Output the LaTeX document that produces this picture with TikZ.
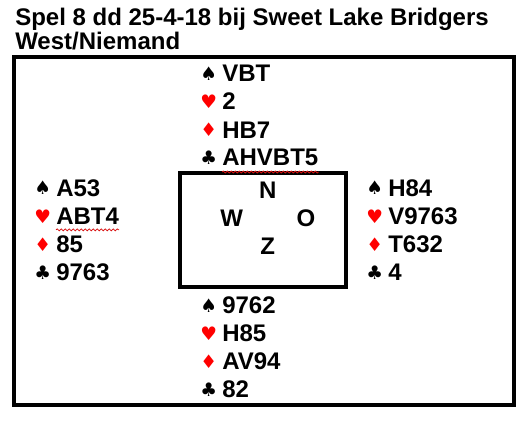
\documentclass[tikz,border=0pt]{standalone}
\usepackage{fontspec}
\setmainfont{Liberation Sans}
\newfontfamily\suitfont{DejaVu Sans}
\usetikzlibrary{positioning,decorations.pathmorphing}
\definecolor{suitred}{HTML}{FF0000}
\definecolor{spell}{HTML}{D81010}

\newcommand{\spadesym}{{\suitfont\fontsize{14}{14}\selectfont ♠}}
\newcommand{\heartsym}{{\suitfont\fontsize{14}{14}\selectfont ♥}}
\newcommand{\diamsym}{{\suitfont\fontsize{14}{14}\selectfont ♦}}
\newcommand{\clubsym}{{\suitfont\fontsize{14}{14}\selectfont ♣}}

\tikzset{
  cards/.style={anchor=base west,inner sep=0pt,font=\bfseries\fontsize{18}{18}\selectfont},
  suit/.style={inner sep=0pt},
  spade/.style={label={[suit]left:\spadesym}},
  heart/.style={label={[suit,text=suitred]left:\heartsym}},
  diamond/.style={label={[suit,text=suitred]left:\diamsym}},
  club/.style={label={[suit]left:\clubsym}},
  wind/.style={inner sep=0pt,font=\bfseries\fontsize{18}{18}\selectfont},
  squiggle/.style={draw=spell,line width=0.6pt,decorate,
    decoration={snake,amplitude=0.7pt,segment length=3pt}},
  frame/.style={draw,line width=3pt},
}

\begin{document}
\begin{tikzpicture}[x=0.75pt,y=-0.75pt,label distance=3.5pt]
\useasboundingbox (0,0) rectangle (531,424);

% title
\node[cards] (title1) at (15,26) {Spel 8 dd 25-4-18 bij Sweet Lake Bridgers};
\node[cards] (title2) at ([yshift=-18pt]title1.base west) {West/Niemand};

% frame and table
\draw[frame] (14,57) rectangle (513.5,404.5);
\node[frame,inner sep=0pt,minimum width=124.7pt,minimum height=85.7pt] (table) at (263.2,229.9) {};
\node[wind] (north) at (267.7,190) {N};
\node[wind] (west) at (231.7,218.3) {W};
\node[wind] (east) at (306,218.3) {O};
\node[wind] (south) at (267.7,246) {Z};

% North
\node[cards,spade] (nS) at (222,82) {VBT};
\node[cards,heart] (nH) at (222,110) {2};
\node[cards,diamond] (nD) at (222,138) {HB7};
\node[cards,club] (nC) at (222,166) {AHVBT5};

% West
\node[cards,spade] (wS) at (56,196) {A53};
\node[cards,heart] (wH) at (56,224.5) {ABT4};
\node[cards,diamond] (wD) at (56,252.5) {85};
\node[cards,club] (wC) at (56,280.5) {9763};

% East
\node[cards,spade] (eS) at (388,196) {H84};
\node[cards,heart] (eH) at (388,224.5) {V9763};
\node[cards,diamond] (eD) at (388,252.5) {T632};
\node[cards,club] (eC) at (388,280.5) {4};

% South
\node[cards,spade] (zS) at (222,313.5) {9762};
\node[cards,heart] (zH) at (222,341.5) {H85};
\node[cards,diamond] (zD) at (222,369.5) {AV94};
\node[cards,club] (zC) at (222,397.5) {82};

% spelling marks
\draw[squiggle] ([yshift=-4.5pt]nC.base west) -- ([yshift=-4.5pt]nC.base east);
\draw[squiggle] ([yshift=-4pt]wH.base west) -- ([yshift=-4pt]wH.base east);
\end{tikzpicture}
\end{document}
